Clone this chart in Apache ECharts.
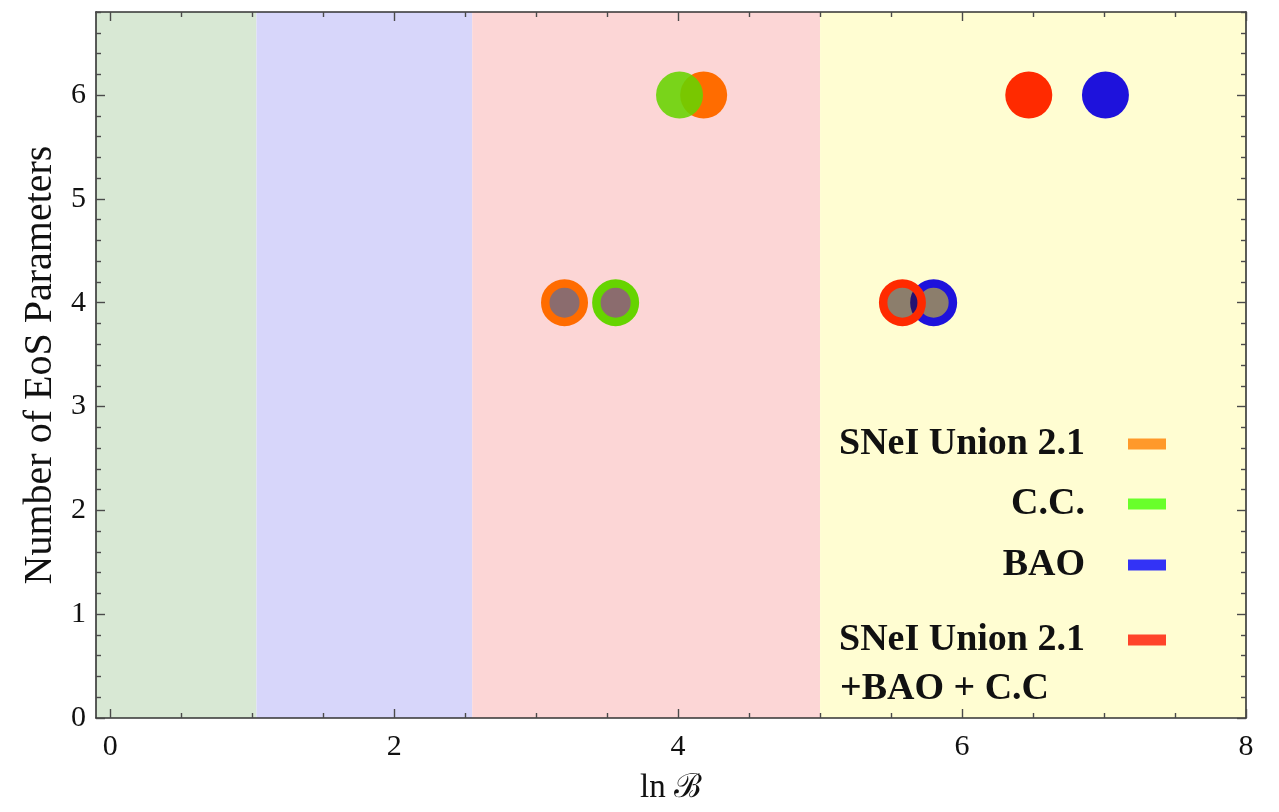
<!DOCTYPE html>
<html>
<head>
<meta charset="utf-8">
<script src="https://cdn.jsdelivr.net/npm/echarts@6/dist/echarts.min.js"></script>
<style>
  html, body { margin: 0; padding: 0; background: #fff; }
  #chart { width: 1279px; height: 812px; }
</style>
</head>
<body>
<div id="chart"></div>
<script>
// Bayes-factor evidence bands (ln B edges) and their fills
const bandEdges = [-0.1, 1.03, 2.55, 5.0, 8];
const bandColors = ['#d8e8d4', '#d7d6fa', '#fcd6d6', '#fffdd2'];

// Number of EoS parameters for each model
const paramCounts = [4, 6];

// ln B per data combination, one value per parameter count
const lnB_SNe = [3.20, 4.18];
const lnB_CC = [3.56, 4.01];
const lnB_BAO = [5.80, 7.01];
const lnB_All = [5.58, 6.47];

// Tick positions
const xMajor = [0, 2, 4, 6, 8];
const xMinor = [0.5, 1, 1.5, 2.5, 3, 3.5, 4.5, 5, 5.5, 6.5, 7, 7.5];
const yMajor = [0, 1, 2, 3, 4, 5, 6];
const yMinor = [];
for (let i = 0; i <= 34; i++) { if (i % 5 !== 0) yMinor.push(+(i * 0.2).toFixed(1)); }

const seriesDefs = [
  { name: 'SNeI Union 2.1', label: 'SNeI Union 2.1', values: lnB_SNe, color: '#ff6c00', legend: '#ff8000' },
  { name: 'C.C.', label: 'C.C.', values: lnB_CC, color: '#66d400', legend: '#44ff00', opacity: 0.88 },
  { name: 'BAO', label: 'BAO', values: lnB_BAO, color: '#1e12dc', legend: '#0000ff' },
  { name: 'SNeI Union 2.1 +BAO + C.C', label: 'SNeI Union 2.1', values: lnB_All, color: '#ff2a00', legend: '#ff1500' }
];

const SERIF = '"Liberation Serif", "DejaVu Serif", serif';
const FRAME = '#333333';

const chart = echarts.init(document.getElementById('chart'));

function makeX(position, custom, len, showLabel, showLine) {
  return {
    type: 'value', position: position, min: -0.1, max: 8, z: 6,
    axisLine: { show: showLine, onZero: false, lineStyle: { color: FRAME, width: 1.6 } },
    axisTick: { show: true, inside: true, length: len, customValues: custom, lineStyle: { color: '#4a4a4a', width: 1.4 } },
    axisLabel: showLabel ? { show: true, customValues: xMajor, margin: 14, fontFamily: SERIF, fontSize: 30, color: '#111' } : { show: false },
    splitLine: { show: false }
  };
}
function makeY(position, custom, len, showLabel, showLine) {
  return {
    type: 'value', position: position, min: 0, max: 6.8, z: 6,
    axisLine: { show: showLine, onZero: false, lineStyle: { color: FRAME, width: 1.6 } },
    axisTick: { show: true, inside: true, length: len, customValues: custom, lineStyle: { color: '#4a4a4a', width: 1.4 } },
    axisLabel: showLabel ? { show: true, customValues: yMajor, margin: 10, fontFamily: SERIF, fontSize: 30, color: '#111' } : { show: false },
    splitLine: { show: false }
  };
}

const xAxes = [
  makeX('bottom', xMajor, 9, true, true),
  makeX('bottom', xMinor, 5, false, false),
  makeX('top', xMajor, 9, false, true),
  makeX('top', xMinor, 5, false, false)
];
xAxes[0].name = 'ln \u212C';
xAxes[0].nameLocation = 'middle';
xAxes[0].nameGap = 54;
xAxes[0].nameTextStyle = { fontFamily: SERIF, fontSize: 33, color: '#111' };

const yAxes = [
  makeY('left', yMajor, 9, true, true),
  makeY('left', yMinor, 5, false, false),
  makeY('right', yMajor, 9, false, true),
  makeY('right', yMinor, 5, false, false)
];
yAxes[0].name = 'Number of EoS Parameters';
yAxes[0].nameLocation = 'middle';
yAxes[0].nameRotate = 90;
yAxes[0].nameGap = 35;
yAxes[0].nameTextStyle = { fontFamily: SERIF, fontSize: 40, color: '#111' };

// background bands
const bandSeries = {
  type: 'scatter', name: 'bands', data: [], z: 0, silent: true,
  markArea: {
    silent: true,
    data: bandColors.map((c, i) => [
      { xAxis: bandEdges[i], itemStyle: { color: c, opacity: 1 } },
      { xAxis: bandEdges[i + 1] }
    ])
  }
};

// 6-parameter fits: filled disks; 4-parameter fits: rings with a dark translucent core
const pointSeries = seriesDefs.map(d => ({
  type: 'scatter', name: d.name, z: 3,
  data: paramCounts.map((p, i) => {
    const ring = p === 4;
    return {
      value: [d.values[i], p],
      symbolSize: ring ? 38.5 : 47,
      itemStyle: ring
        ? { color: 'rgba(42,18,22,0.54)', borderColor: d.color, borderWidth: 8.5, opacity: 1 }
        : { color: d.color, opacity: d.opacity || 1 }
    };
  }),
  itemStyle: { color: d.legend }
}));

// one legend block per entry so the rows keep their own spacing
const legendRows = [422, 482, 543, 618];
const legends = seriesDefs.map((d, i) => ({
  data: [{ name: d.name, itemStyle: { color: d.legend } }],
  orient: 'vertical', align: 'right', right: 113, top: legendRows[i], padding: 0, z: 8,
  itemWidth: 38, itemHeight: 11, icon: 'rect', selectedMode: false,
  formatter: () => d.label,
  textStyle: { fontFamily: SERIF, fontWeight: 'bold', fontSize: 38, color: '#111', lineHeight: 44, padding: [0, 38, 0, 0] }
}));

chart.setOption({
  animation: false,
  backgroundColor: '#ffffff',
  grid: { left: 96, right: 33, top: 12, bottom: 94, containLabel: false },
  xAxis: xAxes,
  yAxis: yAxes,
  legend: legends,
  graphic: [{
    type: 'text', left: 840, top: 670, z: 20,
    style: { text: '+BAO + C.C', font: 'bold 38px ' + SERIF, fill: '#111' }
  }],
  series: [bandSeries].concat(pointSeries)
});
</script>
</body>
</html>
